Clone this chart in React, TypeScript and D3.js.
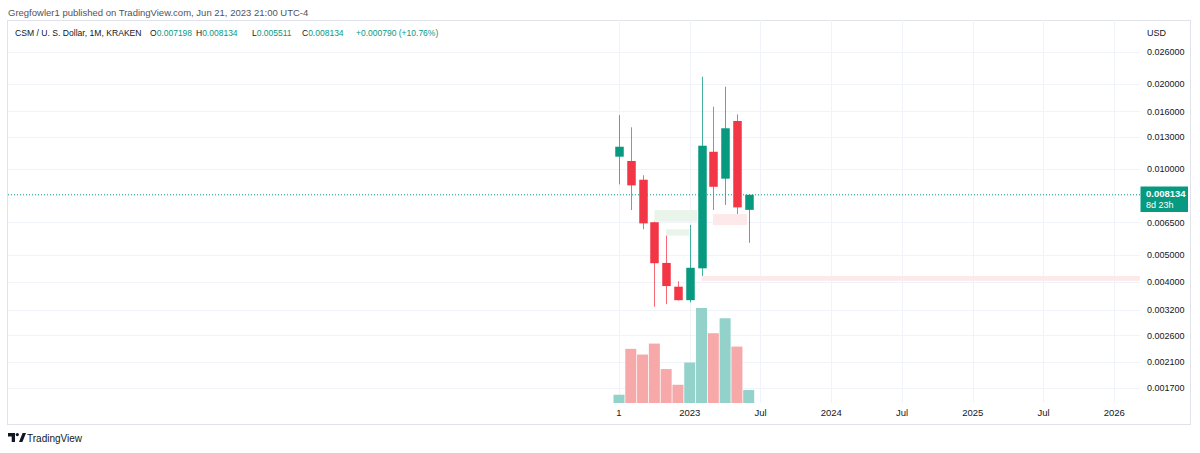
import React from "react";
import * as d3 from "d3";

// monthly candles, Jul 2022 .. Jun 2023
const months = ["2022-07", "2022-08", "2022-09", "2022-10", "2022-11", "2022-12", "2023-01", "2023-02", "2023-03", "2023-04", "2023-05", "2023-06"];
const opens = [0.01108, 0.0107, 0.00919, 0.00651, 0.00468, 0.00386, 0.00346, 0.00448, 0.01153, 0.00927, 0.0148, 0.007198];
const highs = [0.01553, 0.01406, 0.00953, 0.00654, 0.00584, 0.00403, 0.00637, 0.02119, 0.01661, 0.01954, 0.01562, 0.008134];
const lows = [0.00885, 0.00719, 0.00615, 0.00328, 0.00335, 0.00345, 0.0034, 0.00421, 0.00719, 0.00749, 0.00696, 0.005511];
const closes = [0.01201, 0.00878, 0.00645, 0.00467, 0.00388, 0.00346, 0.0045, 0.01211, 0.00868, 0.01395, 0.007344, 0.008134];
const volumes = [83, 543, 486, 596, 340, 183, 406, 953, 700, 850, 566, 130];

// price ticks on the right axis
const priceTicks = [0.026, 0.02, 0.016, 0.013, 0.01, 0.0065, 0.005, 0.004, 0.0032, 0.0026, 0.0021, 0.0017];

// time axis ticks, in months since Jul 2022
const timeTickIdx = [0, 6, 12, 18, 24, 30, 36, 42];
const timeTickLabels = ["1", "2023", "Jul", "2024", "Jul", "2025", "Jul", "2026"];

// imbalance zones: month index from/to, price top/bottom
const zoneFrom = [3, 4, 7.97, 7];
const zoneTo = [6.63, 5.94, 10.86, 44.5];
const zoneTop = [0.00719, 0.00615, 0.00696, 0.00421];
const zoneBottom = [0.00654, 0.00584, 0.00636, 0.00405];
const zoneBull = [true, true, false, false];

const UP = "#089981";
const DOWN = "#f23645";
const FONT = "'Liberation Sans', Arial, sans-serif";

export default function App() {
  const width = 1200;
  const height = 453;
  const paneL = 8, paneR = 1140, paneT = 20, paneB = 403;

  const x = d3.scaleLinear().domain([0, 42]).range([619, 1114.2]);
  const y = d3.scaleLog().domain([0.026, 0.0017]).range([51.5, 387.8]);
  const yVol = d3.scaleLinear().domain([0, d3.max(volumes) as number]).range([paneB, 308]);

  const candles = months.map((m, i) => ({
    m, i, o: opens[i], h: highs[i], l: lows[i], c: closes[i], v: volumes[i],
    up: closes[i] >= opens[i],
  }));

  const last = candles.length - 1;
  const lastPrice = closes[last];
  const change = closes[last] - closes[last - 1];
  const changePct = (change / closes[last - 1]) * 100;

  const bodyW = 8.5;
  const volW = 11;

  return (
    <svg width={width} height={height} style={{ position: "absolute", left: 0, top: 0, background: "#fff" }} fontFamily={FONT}>
      <rect x={0} y={0} width={width} height={height} fill="#fff" />
      <text x={8} y={16} fontSize={9.5} fill="#50535e">Gregfowler1 published on TradingView.com, Jun 21, 2023 21:00 UTC-4</text>

      <rect x={7.5} y={20.5} width={1183} height={404} fill="#fff" stroke="#e0e3eb" />

      <defs>
        <clipPath id="pane">
          <rect x={paneL} y={paneT} width={paneR - paneL} height={paneB - paneT} />
        </clipPath>
      </defs>

      {/* grid */}
      <g stroke="#f0f3fa" strokeWidth={1}>
        {priceTicks.map((p) => (
          <line key={p} x1={paneL} x2={paneR} y1={Math.round(y(p)) + 0.5} y2={Math.round(y(p)) + 0.5} />
        ))}
        {timeTickIdx.map((t) => (
          <line key={t} x1={Math.round(x(t)) + 0.5} x2={Math.round(x(t)) + 0.5} y1={paneT} y2={paneB} />
        ))}
      </g>

      <g clipPath="url(#pane)">
        {/* zones */}
        {zoneFrom.map((f, i) => (
          <rect key={i}
            x={x(f)} width={Math.min(x(zoneTo[i]), paneR) - x(f)}
            y={y(zoneTop[i])} height={y(zoneBottom[i]) - y(zoneTop[i])}
            fill={zoneBull[i] ? "#e9f5eb" : "#fde8ea"} />
        ))}

        {/* volume */}
        {candles.map((d) => (
          <rect key={"v" + d.m} x={x(d.i) - volW / 2} width={volW} y={yVol(d.v)} height={paneB - yVol(d.v)}
            fill={d.up ? "#92d2cb" : "#f7a8a9"} />
        ))}

        {/* last price line */}
        <line x1={paneL} x2={paneR} y1={y(lastPrice)} y2={y(lastPrice)} stroke={UP} strokeDasharray="1 2" />

        {/* candles */}
        {candles.map((d) => {
          const cx = Math.round(x(d.i)) + 0.5;
          const top = y(Math.max(d.o, d.c));
          const bot = y(Math.min(d.o, d.c));
          const col = d.up ? UP : DOWN;
          return (
            <g key={d.m}>
              <line x1={cx} x2={cx} y1={y(d.h)} y2={y(d.l)} stroke={col} strokeOpacity={0.75} />
              <rect x={cx - bodyW / 2} width={bodyW} y={top} height={Math.max(1, bot - top)} fill={col} />
            </g>
          );
        })}
      </g>

      {/* legend */}
      <text x={15} y={36} fontSize={8.6} fill="#131722">CSM / U. S. Dollar, 1M, KRAKEN</text>
      <g fontSize={8.5} fill="#131722">
        <text x={150} y={36}>O<tspan fill={UP}>{opens[last].toFixed(6)}</tspan></text>
        <text x={196} y={36}>H<tspan fill={UP}>{highs[last].toFixed(6)}</tspan></text>
        <text x={252} y={36}>L<tspan fill={UP}>{lows[last].toFixed(6)}</tspan></text>
        <text x={302} y={36}>C<tspan fill={UP}>{closes[last].toFixed(6)}</tspan></text>
        <text x={356} y={36} fill={UP}>+{change.toFixed(6)} (+{changePct.toFixed(2)}%)</text>
      </g>

      {/* price axis */}
      <g fontSize={9} fill="#131722">
        <text x={1147} y={36}>USD</text>
        {priceTicks.map((p) => (
          <text key={p} x={1147} y={y(p)} dy="0.35em">{p.toFixed(6)}</text>
        ))}
      </g>
      <rect x={1140.5} y={186.5} width={47.5} height={25.5} fill={UP} />
      <text x={1146} y={197} fontSize={9.5} fontWeight="bold" fill="#fff">{lastPrice.toFixed(6)}</text>
      <text x={1146} y={208} fontSize={9} fill="#fff">8d 23h</text>

      {/* time axis */}
      <g fontSize={9.5} fill="#131722" textAnchor="middle">
        {timeTickIdx.map((t, i) => (
          <text key={t} x={x(t)} y={416}>{timeTickLabels[i]}</text>
        ))}
      </g>

      {/* footer logo */}
      <g fill="#131722">
        <path d="M8 433 h7 v9 h-3.3 v-5.6 h-3.7 z" />
        <circle cx={17.3} cy={434.6} r={1.6} />
        <path d="M19 442 l3.6 -9 h3.4 l-3.6 9 z" />
        <text x={27} y={442} fontSize={10}>TradingView</text>
      </g>
    </svg>
  );
}
